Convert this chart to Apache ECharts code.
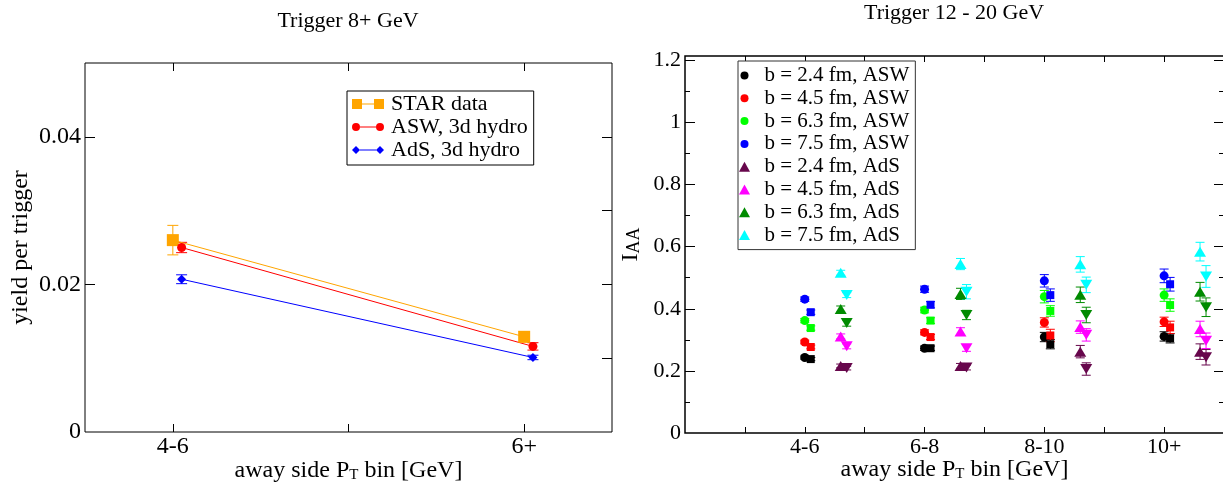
<!DOCTYPE html>
<html>
<head>
<meta charset="utf-8" />
<title>I_AA</title>
<script src="https://cdn.jsdelivr.net/npm/echarts@6/dist/echarts.min.js"></script>
<style>
body { margin: 0; background: #fff; }
#main { width: 1223px; height: 484px; }
</style>
</head>
<body>
<div id="main"></div>
<script>
// left panel: trigger 8+ GeV
var leftBins = [1, 2];
var leftBinLabels = ['4-6', '6+'];
var starY = [0.0260, 0.0129];
var starErr = [0.0020, 0.0007];
var aswY = [0.0250, 0.0116];
var aswErr = [0.0007, 0.0005];
var adsY = [0.0207, 0.0101];
var adsErr = [0.0006, 0.0003];

// right panel: trigger 12 - 20 GeV
var rightBins = [1, 2, 3, 4];
var rightBinLabels = ['4-6', '6-8', '8-10', '10+'];
var impact = ['b = 2.4 fm', 'b = 4.5 fm', 'b = 6.3 fm', 'b = 7.5 fm'];
// ASW, circles
var aswCircY = [
  [0.243, 0.273, 0.309, 0.311],
  [0.293, 0.324, 0.356, 0.358],
  [0.362, 0.396, 0.439, 0.444],
  [0.431, 0.463, 0.490, 0.506]
];
var aswCircErr = [
  [0.005, 0.007, 0.015, 0.015],
  [0.006, 0.008, 0.015, 0.015],
  [0.007, 0.009, 0.020, 0.020],
  [0.007, 0.010, 0.020, 0.022]
];
// ASW, squares
var aswSqY = [
  [0.238, 0.273, 0.286, 0.305],
  [0.277, 0.309, 0.314, 0.340],
  [0.338, 0.362, 0.393, 0.412],
  [0.389, 0.413, 0.444, 0.479]
];
var aswSqErr = [
  [0.005, 0.007, 0.015, 0.015],
  [0.006, 0.008, 0.020, 0.020],
  [0.007, 0.009, 0.017, 0.020],
  [0.007, 0.010, 0.020, 0.022]
];
// AdS, up triangles
var adsUpY = [
  [0.216, 0.216, 0.262, 0.262],
  [0.311, 0.327, 0.341, 0.335],
  [0.399, 0.448, 0.445, 0.455],
  [0.516, 0.544, 0.543, 0.584]
];
var adsUpErr = [
  [0.006, 0.008, 0.020, 0.025],
  [0.008, 0.012, 0.020, 0.025],
  [0.010, 0.018, 0.025, 0.030],
  [0.008, 0.018, 0.025, 0.030]
];
// AdS, down triangles
var adsDnY = [
  [0.209, 0.211, 0.206, 0.244],
  [0.279, 0.273, 0.316, 0.297],
  [0.354, 0.380, 0.380, 0.405],
  [0.444, 0.455, 0.477, 0.504]
];
var adsDnErr = [
  [0.006, 0.008, 0.020, 0.025],
  [0.008, 0.010, 0.020, 0.025],
  [0.010, 0.015, 0.025, 0.030],
  [0.008, 0.023, 0.025, 0.035]
];

var FONT = "'Liberation Serif', 'Times New Roman', serif";
var aswColors = ['#000000', '#ff0000', '#00ff00', '#0000ff'];
var adsColors = ['#67074c', '#ff00ff', '#008b00', '#00ffff'];

function pts(xs, ys, dx) {
  return xs.map(function (x, i) { return [x + dx, ys[i]]; });
}
function errPts(xs, ys, es, dx) {
  return xs.map(function (x, i) { return [x + dx, ys[i], es[i]]; });
}
// vertical error bar with caps
function errorBar(color, cap) {
  return function (params, api) {
    var x = api.value(0), y = api.value(1), e = api.value(2);
    var hi = api.coord([x, y + e]), lo = api.coord([x, y - e]);
    var st = { stroke: color, lineWidth: 1 };
    return { type: 'group', children: [
      { type: 'line', shape: { x1: hi[0], y1: hi[1], x2: lo[0], y2: lo[1] }, style: st },
      { type: 'line', shape: { x1: hi[0] - cap, y1: hi[1], x2: hi[0] + cap, y2: hi[1] }, style: st },
      { type: 'line', shape: { x1: lo[0] - cap, y1: lo[1], x2: lo[0] + cap, y2: lo[1] }, style: st }
    ]};
  };
}
function errSeries(data, color, cap, xi, yi) {
  return { type: 'custom', xAxisIndex: xi, yAxisIndex: yi, data: data,
    renderItem: errorBar(color, cap), silent: true, z: 2 };
}

var tickStyle = { color: '#000', width: 1 };
var subRich = { fontFamily: FONT, fontSize: 15, lineHeight: 15, padding: [20, 0, 0, 0], verticalAlign: 'bottom', color: '#000' };

var series = [];
// left panel
series.push(errSeries(errPts(leftBins, starY, starErr, 0), '#ffa500', 5.5, 0, 0));
series.push(errSeries(errPts(leftBins, aswY, aswErr, 0.025), '#ff0000', 5.5, 0, 0));
series.push(errSeries(errPts(leftBins, adsY, adsErr, 0.025), '#0000ff', 5.5, 0, 0));
series.push({ name: 'STAR data', type: 'line', xAxisIndex: 0, yAxisIndex: 0, data: pts(leftBins, starY, 0),
  symbol: 'rect', symbolSize: 12, itemStyle: { color: '#ffa500' }, lineStyle: { color: '#ffa500', width: 1 }, z: 3 });
series.push({ name: 'ASW, 3d hydro', type: 'line', xAxisIndex: 0, yAxisIndex: 0, data: pts(leftBins, aswY, 0.025),
  symbol: 'circle', symbolSize: 9, itemStyle: { color: '#ff0000' }, lineStyle: { color: '#ff0000', width: 1 }, z: 3 });
series.push({ name: 'AdS, 3d hydro', type: 'line', xAxisIndex: 0, yAxisIndex: 0, data: pts(leftBins, adsY, 0.025),
  symbol: 'diamond', symbolSize: [9, 9], itemStyle: { color: '#0000ff' }, lineStyle: { color: '#0000ff', width: 1 }, z: 3 });

// right panel
var rightLegend = [];
var circIcon = 'path://M0,0M10,10M1,5a4,4 0 1,0 8,0a4,4 0 1,0 -8,0z';
var triIcon = 'path://M5.5,0L11,10L0,10Z';
for (var k = 0; k < 4; k++) {
  series.push(errSeries(errPts(rightBins, aswCircY[k], aswCircErr[k], 0), aswColors[k], 4.5, 1, 2));
  series.push(errSeries(errPts(rightBins, aswSqY[k], aswSqErr[k], 0.05), aswColors[k], 4.5, 1, 2));
  series.push({ name: impact[k] + ', ASW', type: 'scatter', xAxisIndex: 1, yAxisIndex: 2,
    data: pts(rightBins, aswCircY[k], 0), symbol: 'circle', symbolSize: 9, itemStyle: { color: aswColors[k], opacity: 1 }, z: 3 });
  series.push({ name: impact[k] + ', ASW sq', type: 'scatter', xAxisIndex: 1, yAxisIndex: 2,
    data: pts(rightBins, aswSqY[k], 0.05), symbol: 'rect', symbolSize: 8, itemStyle: { color: aswColors[k], opacity: 1 }, z: 3 });
  rightLegend.push({ name: impact[k] + ', ASW', icon: circIcon });
}
for (var k = 0; k < 4; k++) {
  series.push(errSeries(errPts(rightBins, adsUpY[k], adsUpErr[k], 0.3), adsColors[k], 4.5, 1, 2));
  series.push(errSeries(errPts(rightBins, adsDnY[k], adsDnErr[k], 0.35), adsColors[k], 4.5, 1, 2));
  series.push({ name: impact[k] + ', AdS', type: 'scatter', xAxisIndex: 1, yAxisIndex: 2,
    data: pts(rightBins, adsUpY[k], 0.3), symbol: 'triangle', symbolSize: [12, 10], itemStyle: { color: adsColors[k], opacity: 1 }, z: 3 });
  series.push({ name: impact[k] + ', AdS down', type: 'scatter', xAxisIndex: 1, yAxisIndex: 2,
    data: pts(rightBins, adsDnY[k], 0.35), symbol: 'triangle', symbolRotate: 180, symbolSize: [12, 10], itemStyle: { color: adsColors[k], opacity: 1 }, z: 3 });
  rightLegend.push({ name: impact[k] + ', AdS', icon: triIcon });
}

function yTicks(grid, pos, min, max, ticks, len, labels, name, gap) {
  return {
    type: 'value', gridIndex: grid, position: pos, min: min, max: max,
    axisLine: { show: false, onZero: false },
    splitLine: { show: false },
    axisTick: { show: true, inside: true, length: len, lineStyle: tickStyle, customValues: ticks },
    axisLabel: labels ? { show: true, customValues: labels, margin: pos === 'left' ? 4 : 5, color: '#000', fontFamily: FONT, fontSize: grid === 0 ? 24 : 22 } : { show: false },
    name: name || '', nameLocation: 'middle', nameGap: gap || 0, nameMoveOverlap: false,
    nameTextStyle: { fontFamily: FONT, fontSize: 24, color: '#000', lineHeight: 24, rich: { sub: Object.assign({}, subRich, { fontSize: 18, lineHeight: 18, padding: [28, 0, 0, 0] }) } }
  };
}
function xTicks(grid, pos, min, max, ticks, len, labels, names, gap) {
  return {
    type: 'value', gridIndex: grid, position: pos, min: min, max: max,
    axisLine: { show: false, onZero: false },
    splitLine: { show: false },
    axisTick: { show: true, inside: true, length: len, lineStyle: tickStyle, customValues: ticks },
    axisLabel: labels ? { show: true, customValues: labels, margin: 3, color: '#000', fontFamily: FONT, fontSize: grid === 0 ? 24 : 22,
      formatter: function (v) { return names[labels.indexOf(v)]; } } : { show: false },
    name: labels ? 'away side P{sub|T} bin [GeV]' : '', nameLocation: 'middle', nameGap: gap || 0, nameMoveOverlap: false,
    nameTextStyle: { fontFamily: FONT, fontSize: 24, color: '#000', lineHeight: 24, rich: { sub: subRich } }
  };
}

var option = {
  animation: false,
  backgroundColor: '#fff',
  title: [
    { text: 'Trigger 8+ GeV', left: 348, top: 10, textAlign: 'center', padding: 0,
      textStyle: { fontFamily: FONT, fontSize: 22, fontWeight: 'normal', color: '#000' } },
    { text: 'Trigger 12 - 20 GeV', left: 954, top: 2, textAlign: 'center', padding: 0,
      textStyle: { fontFamily: FONT, fontSize: 22, fontWeight: 'normal', color: '#000' } }
  ],
  legend: [
    { data: [
        { name: 'STAR data', icon: 'path://M0,0h10v10h-10zM10,4.5h12v1h-12zM22,0h10v10h-10z' },
        { name: 'ASW, 3d hydro', icon: 'path://M0,5a4,4 0 1,0 8,0a4,4 0 1,0 -8,0zM8,4.5h16v1h-16zM24,5a4,4 0 1,0 8,0a4,4 0 1,0 -8,0z' },
        { name: 'AdS, 3d hydro', icon: 'path://M0,5l4,-4l4,4l-4,4zM8,4.5h16v1h-16zM24,5l4,-4l4,4l-4,4z' }
      ],
      orient: 'vertical', left: 347, top: 91, padding: [2, 6, 4, 5], itemWidth: 32, itemHeight: 10, itemGap: 1,
      backgroundColor: '#fff', borderColor: '#000', borderWidth: 1, selectedMode: false,
      textStyle: { fontFamily: FONT, fontSize: 22, lineHeight: 22, color: '#000', padding: [0, 0, 0, 2] } },
    { data: rightLegend,
      orient: 'vertical', left: 738, top: 61, padding: [4, 6, 4, 1], itemWidth: 30, itemHeight: 10, itemGap: 1.8,
      backgroundColor: '#fff', borderColor: '#333', borderWidth: 1, selectedMode: false,
      textStyle: { fontFamily: FONT, fontSize: 21, lineHeight: 21, color: '#000' } }
  ],
  grid: [
    { left: 85, right: 611, top: 63, bottom: 52, show: true, borderColor: '#000', borderWidth: 1, backgroundColor: 'transparent', outerBoundsMode: 'none', containLabel: false },
    { left: 685, right: -1, top: 56, bottom: 51, show: true, borderColor: '#000', borderWidth: 1.5, backgroundColor: 'transparent', outerBoundsMode: 'none', containLabel: false }
  ],
  xAxis: [
    xTicks(0, 'bottom', 0.75, 2.25, [1, 1.5, 2], 8, leftBins, leftBinLabels, 27),
    xTicks(1, 'bottom', 0, 4.5, [0.5, 1, 1.5, 2, 2.5, 3, 3.5, 4], 6, rightBins, rightBinLabels, 25),
    xTicks(0, 'top', 0.75, 2.25, [1, 1.5, 2], 8, null),
    xTicks(1, 'top', 0, 4.5, [0.5, 1, 1.5, 2, 2.5, 3, 3.5, 4], 6, null)
  ],
  yAxis: [
    yTicks(0, 'left', 0, 0.05, [0.02, 0.04], 10, [0, 0.02, 0.04], 'yield per trigger', 52),
    yTicks(0, 'right', 0, 0.05, [0.01, 0.02, 0.03, 0.04], 10, null),
    yTicks(1, 'left', 0, 1.214, [0.2, 0.4, 0.6, 0.8, 1, 1.2], 10, [0, 0.2, 0.4, 0.6, 0.8, 1, 1.2], 'I{sub|AA}', 42),
    yTicks(1, 'left', 0, 1.214, [0.1, 0.3, 0.5, 0.7, 0.9, 1.1], 5, null),
    yTicks(1, 'right', 0, 1.214, [0.2, 0.4, 0.6, 0.8, 1, 1.2], 10, null),
    yTicks(1, 'right', 0, 1.214, [0.1, 0.3, 0.5, 0.7, 0.9, 1.1], 5, null)
  ],
  series: series
};

var chart = echarts.init(document.getElementById('main'), null, { renderer: 'canvas' });
chart.setOption(option);
</script>
</body>
</html>
